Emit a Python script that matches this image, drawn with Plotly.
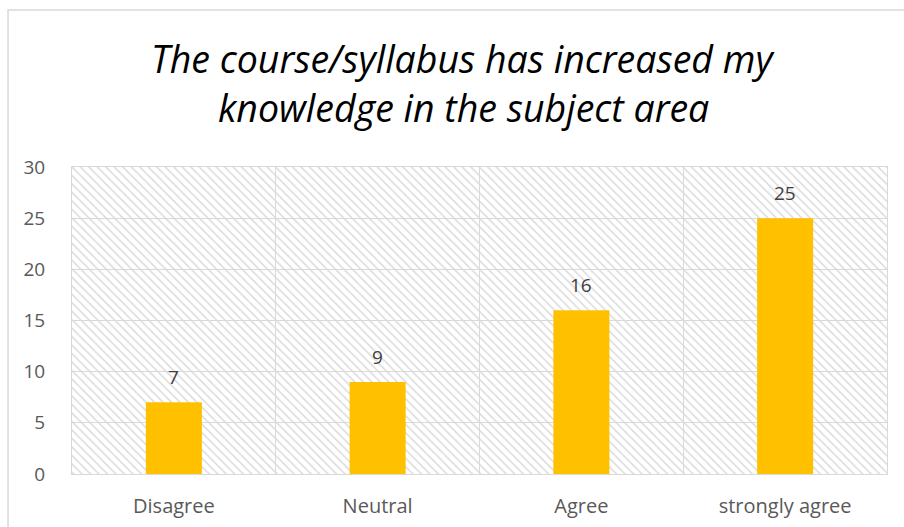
import plotly.graph_objects as go

categorias = ['Disagree', 'Neutral', 'Agree', 'strongly agree']
respuestas = [7, 9, 16, 25]
ticks_y = [0, 5, 10, 15, 20, 25, 30]

titulo = ['The course/syllabus has increased my', 'knowledge in the subject area']

pos_x = list(range(len(categorias)))
y_max = ticks_y[-1]
gris = '#d9d9d9'
texto = '#595959'
fuente = 'Open Sans, sans-serif'

fig = go.Figure()

# fondo rayado del area de trazado (Excel "wide downward diagonal")
fig.add_trace(go.Bar(
    x=[(len(categorias) - 1) / 2],
    y=[y_max],
    width=[len(categorias)],
    marker=dict(color='rgba(0,0,0,0)', line=dict(width=0),
                pattern=dict(shape='\\', size=6, solidity=0.25,
                             fgcolor='#dadada', bgcolor='rgba(0,0,0,0)',
                             fillmode='replace')),
    hoverinfo='skip',
    showlegend=False,
))

fig.add_trace(go.Bar(
    x=pos_x,
    y=respuestas,
    width=0.275,
    marker=dict(color='#FFC000', line=dict(width=0)),
    showlegend=False,
))

for xi, v in zip(pos_x, respuestas):
    fig.add_annotation(x=xi, y=v, text=str(v), showarrow=False,
                       yanchor='bottom', yshift=10,
                       font=dict(family=fuente, size=19, color='#404040'))

# titulo en dos lineas (interlineado como en Excel)
for linea, yp in zip(titulo, [1.353, 1.193]):
    fig.add_annotation(xref='paper', yref='paper', x=0.48, y=yp,
                       text=linea, showarrow=False,
                       xanchor='center', yanchor='middle',
                       font=dict(family=fuente, size=37.5, color='black', style='italic'))

# borde del grafico (solo se ven arriba e izquierda)
fig.add_shape(type='rect', xref='paper', yref='paper',
              x0=-0.0785, x1=1.2, y0=-0.5, y1=1.511,
              line=dict(color=gris, width=1.5), layer='below')

fig.update_layout(
    barmode='overlay',
    width=904, height=527,
    margin=dict(l=72, r=17, t=167, b=53),
    paper_bgcolor='white',
    plot_bgcolor='white',
    xaxis=dict(
        range=[-0.5, len(categorias) - 0.5],
        tickvals=pos_x, ticktext=categorias,
        showgrid=False, zeroline=False, automargin=False,
        showline=True, mirror=True, linecolor=gris, linewidth=1,
        ticks='', ticklabelstandoff=14,
        tickfont=dict(family=fuente, size=20, color=texto),
        minor=dict(tickvals=[p + 0.5 for p in pos_x[:-1]], showgrid=True,
                   gridcolor=gris, gridwidth=1, ticks=''),
    ),
    yaxis=dict(
        range=[0, y_max], tickvals=ticks_y,
        showgrid=True, gridcolor=gris, gridwidth=1,
        zeroline=False, automargin=False,
        showline=True, mirror=True, linecolor=gris, linewidth=1,
        ticks='', ticklabelstandoff=22,
        tickfont=dict(family=fuente, size=19, color=texto),
    ),
)

fig.write_html('out.html', config={'displayModeBar': False},
               post_script="document.body.style.margin='0';")
